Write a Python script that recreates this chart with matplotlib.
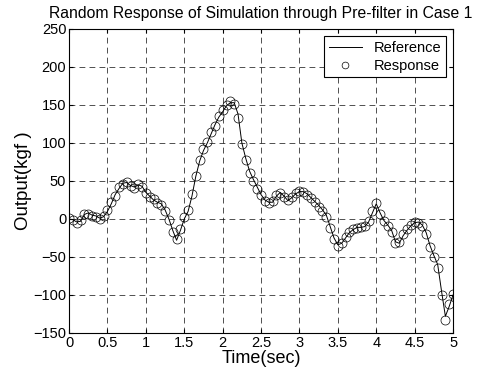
import numpy as np
import matplotlib
matplotlib.use('Agg')
import matplotlib.pyplot as plt

plt.rcParams['font.family'] = ['Liberation Sans', 'DejaVu Sans']

# time samples (sec)
t = np.arange(0, 5.0001, 0.05)

# reference output (kgf)
ref = [0, -1, -4, -3, 6, 8, 5, 4, 1, 3,
       10, 20, 32, 40, 47, 48, 44, 42, 45, 43,
       35, 30, 25, 22, 20, 12, 0, -15, -28, -15,
       0, 10, 30, 56, 76, 90, 100, 112, 124, 134,
       141, 149, 153, 153, 138, 100, 80, 63, 52, 42,
       32, 25, 22, 22, 30, 35, 30, 24, 28, 33,
       36, 36, 33, 28, 23, 18, 12, 5, -10, -25,
       -34, -32, -25, -18, -14, -11, -11, -10, -4, 8,
       20, 8, -2, -8, -15, -30, -32, -22, -15, -9,
       -5, -4, -8, -18, -35, -48, -60, -95, -128, -115,
       -100]

# simulated response through pre-filter (kgf)
resp = [1, -2, -5, -2, 7, 7, 4, 3, 0, 4,
        12, 22, 30, 42, 46, 49, 43, 41, 46, 42,
        34, 29, 26, 21, 19, 11, -2, -17, -26, -13,
        2, 12, 33, 57, 78, 92, 101, 114, 122, 135,
        143, 150, 155, 151, 133, 99, 78, 61, 50, 40,
        31, 24, 21, 23, 31, 34, 29, 25, 29, 34,
        37, 35, 32, 27, 22, 16, 11, 3, -12, -27,
        -35, -31, -24, -17, -13, -12, -10, -9, -3, 10,
        21, 7, -3, -9, -17, -31, -30, -20, -13, -8,
        -4, -5, -9, -20, -37, -50, -64, -100, -133, -112,
        -99]

fig = plt.figure(figsize=(4.83, 3.76), dpi=100)
ax = fig.add_axes([0.143, 0.1144, 0.795, 0.8086])

ax.plot(t, ref, '-', color='black', lw=0.7, label='Reference')
ax.plot(t, resp, 'o', mfc='none', mec='black', mew=0.5, ms=6.5, label='Response')

ax.set_xlim(0, 5)
ax.set_ylim(-150, 250)
ax.set_xticks(np.arange(0, 5.01, 0.5))
ax.set_xticklabels(['0', '0.5', '1', '1.5', '2', '2.5', '3', '3.5', '4', '4.5', '5'])
ax.set_yticks(np.arange(-150, 251, 50))
ax.tick_params(direction='in', length=3, labelsize=10.5, top=True, right=True, pad=2)
ax.grid(True, color='black', linestyle=(0, (7, 5)), lw=0.6, alpha=0.8)
for s in ax.spines.values():
    s.set_linewidth(0.8)

ax.set_title('Random Response of Simulation through Pre-filter in Case 1', fontsize=11.3, pad=8)
ax.set_xlabel('Time(sec)', fontsize=13, labelpad=0)
ax.set_ylabel('Output(kgf )', fontsize=13.5, labelpad=1)

leg = ax.legend(loc='upper right', fontsize=10.5, fancybox=False, framealpha=1,
                edgecolor='black', borderaxespad=0.5, handlelength=2.3,
                markerscale=0.75, borderpad=0.3, labelspacing=0.3)
leg.get_frame().set_linewidth(0.8)

plt.savefig('out.png', dpi=100)
